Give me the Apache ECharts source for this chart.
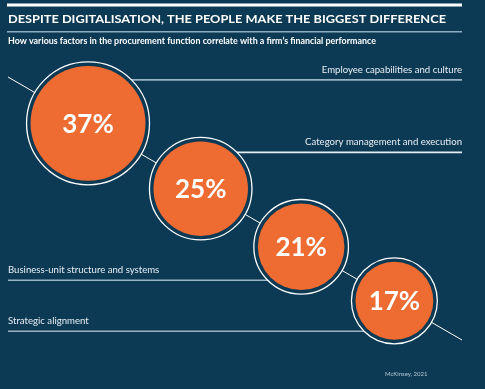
<!DOCTYPE html>
<html><head><meta charset="utf-8">
<script src="https://cdn.jsdelivr.net/npm/echarts@6/dist/echarts.min.js"></script>
<style>html,body{margin:0;padding:0;background:#0c3a55;}#c{width:485px;height:389px;}</style>
</head><body><div id="c"></div>
<script>
const title = 'DESPITE DIGITALISATION, THE PEOPLE MAKE THE BIGGEST DIFFERENCE';
const subtitle = 'How various factors in the procurement function correlate with a firm\u2019s financial performance';
const source = 'McKinsey, 2021';
const factors = ['Employee capabilities and culture', 'Category management and execution', 'Business-unit structure and systems', 'Strategic alignment'];
const correlation = [37, 25, 21, 17];
const labelSide = ['right', 'right', 'left', 'left'];

// layout
const W = 485, H = 389;
const LEFT = 8, RIGHT = 462;
const START = [8, 77], END = [462, 340];
const len = Math.hypot(END[0] - START[0], END[1] - START[1]);
const ux = (END[0] - START[0]) / len, uy = (END[1] - START[1]) / len;
const K = 9.45, RING_PAD = 4, GAP = 17.5, OFFSET = 31;
const rOf = v => K * Math.sqrt(v);

const points = [];
let d = OFFSET;
correlation.forEach((v, i) => {
  const ring = rOf(v) + RING_PAD;
  if (i === 0) d += ring; else d += (rOf(correlation[i - 1]) + RING_PAD) + GAP + ring;
  points.push([START[0] + ux * d, START[1] + uy * d, v, i]);
});

const NAVY = '#0c3a55', ORANGE = '#ee6b31';
const chart = echarts.init(document.getElementById('c'), null, {renderer: 'canvas'});
chart.setOption({
  backgroundColor: NAVY,
  animation: false,
  grid: {left: 0, top: 0, right: 0, bottom: 0},
  xAxis: {type: 'value', min: 0, max: W, show: false},
  yAxis: {type: 'value', min: 0, max: H, inverse: true, show: false},
  graphic: [
    {type: 'rect', shape: {x: 7, y: 3.5, width: 455, height: 3}, style: {fill: '#ffffff'}},
    {type: 'text', x: 8, y: 19.5, scaleX: 1.065, style: {text: title, fill: '#ffffff', font: 'bold 12px Lato', textVerticalAlign: 'middle'}},
    {type: 'rect', shape: {x: 7, y: 31, width: 455, height: 1.5}, style: {fill: '#8fadc2'}},
    {type: 'text', x: 8, y: 41, style: {text: subtitle, fill: '#ffffff', font: 'bold 8.9px Lato', textVerticalAlign: 'middle'}},
    {type: 'text', x: 385, y: 374, style: {text: source, fill: '#b7c6d2', font: '6px Lato', textVerticalAlign: 'middle'}}
  ],
  series: [
    {
      type: 'custom', z: 1,
      data: [[START[0], START[1], END[0], END[1]]],
      renderItem: (params, api) => {
        const a = api.coord([api.value(0), api.value(1)]);
        const b = api.coord([api.value(2), api.value(3)]);
        return {type: 'line', shape: {x1: a[0], y1: a[1], x2: b[0], y2: b[1]}, style: {stroke: '#ffffff', lineWidth: 1}};
      }
    },
    {
      type: 'custom', z: 2,
      encode: {x: 0, y: 1},
      data: points,
      renderItem: (params, api) => {
        const c = api.coord([api.value(0), api.value(1)]);
        const v = api.value(2);
        const i = api.value(3);
        const r = api.size([rOf(v), 0])[0];
        const ring = r + RING_PAD;
        const right = labelSide[i] === 'right';
        const ly = right ? c[1] - ring * 0.707 : c[1] + ring * 0.707;
        const xl = api.coord([LEFT, 0])[0], xr = api.coord([RIGHT, 0])[0];
        const x1 = right ? c[0] : xl, x2 = right ? xr : c[0];
        const lineColor = i === 1 ? '#e6edf2' : '#9ab3c5';
        return {
          type: 'group',
          children: [
            {type: 'line', shape: {x1: x1, y1: ly, x2: x2, y2: ly}, style: {stroke: lineColor, lineWidth: 1.6}},
            {type: 'text', x: right ? xr : xl, y: ly - 5, style: {text: factors[i], fill: '#e9eef2', font: '9.6px Lato', textAlign: right ? 'right' : 'left', textVerticalAlign: 'bottom'}},
            {type: 'circle', shape: {cx: c[0], cy: c[1], r: ring}, style: {fill: NAVY, stroke: '#ffffff', lineWidth: 1.3}},
            {type: 'circle', shape: {cx: c[0], cy: c[1], r: r}, style: {fill: ORANGE}},
            {type: 'text', x: c[0], y: c[1] + 1, style: {text: v + '%', fill: '#ffffff', font: 'bold 26px Lato', textAlign: 'center', textVerticalAlign: 'middle'}}
          ]
        };
      }
    }
  ]
});
</script>
</body></html>
